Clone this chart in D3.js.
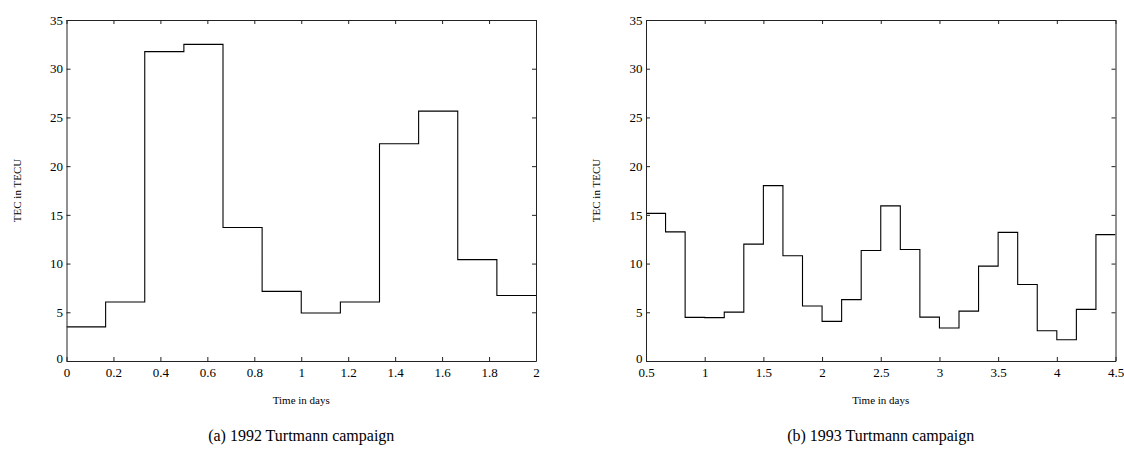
<!DOCTYPE html>
<html><head><meta charset="utf-8">
<script src="https://cdn.jsdelivr.net/npm/d3@7"></script>
<style>
html,body{margin:0;padding:0;background:#fff;}
text{font-family:"Liberation Serif","Times New Roman",serif;fill:#000;}
</style></head>
<body>
<svg id="chart" width="1124" height="462"></svg>
<script>
// Panel (a): 1992, bins of 1/6 day starting at 0
const binStartA = 0;
const tecA = [3.5, 6.05, 31.75, 32.5, 13.7, 7.15, 4.93, 6.05, 22.3, 25.65, 10.4, 6.72];
// Panel (b): 1993, bins of 1/6 day; first bin (before 0.5) is clipped
const binStartB = 1/3;
const tecB = [11.9, 15.15, 13.25, 4.48, 4.45, 5.02, 12.0, 18.0, 10.8, 5.64, 4.07, 6.3,
              11.34, 15.92, 11.45, 4.5, 3.38, 5.12, 9.74, 13.2, 7.85, 3.1, 2.18, 5.3, 12.97];
const binWidth = 1/6;
const xTicksA = [0, 0.2, 0.4, 0.6, 0.8, 1, 1.2, 1.4, 1.6, 1.8, 2];
const xTicksB = [0.5, 1, 1.5, 2, 2.5, 3, 3.5, 4, 4.5];
const yTicks = [0, 5, 10, 15, 20, 25, 30, 35];
const xDomainA = [0, 2];
const xDomainB = [0.5, 4.5];
const yDomain = [0, 35];
const captions = ["(a) 1992 Turtmann campaign", "(b) 1993 Turtmann campaign"];
const xLabel = "Time in days";
const yLabel = "TEC in TECU";

const svg = d3.select("#chart");
const plotTop = 20, plotBottom = 361, plotW = 469.5;
const panels = [
  {left: 66.5, dom: xDomainA, ticks: xTicksA, start: binStartA, vals: tecA, cap: captions[0]},
  {left: 646, dom: xDomainB, ticks: xTicksB, start: binStartB, vals: tecB, cap: captions[1]}
];

panels.forEach((p, i) => {
  const x = d3.scaleLinear().domain(p.dom).range([p.left, p.left + plotW]);
  const y = d3.scaleLinear().domain(yDomain).range([plotBottom, plotTop]);
  const g = svg.append("g");
  const clipId = "clip" + i;
  svg.append("clipPath").attr("id", clipId).append("rect")
    .attr("x", x.range()[0]).attr("y", plotTop).attr("width", plotW).attr("height", plotBottom - plotTop);

  const pts = p.vals.map((v, k) => [p.start + k * binWidth, v]);
  pts.push([p.start + p.vals.length * binWidth, p.vals[p.vals.length - 1]]);
  const line = d3.line().x(d => x(d[0])).y(d => y(d[1])).curve(d3.curveStepAfter);
  g.append("path").attr("d", line(pts)).attr("fill", "none")
    .attr("stroke", "#000").attr("stroke-width", 1.1).attr("clip-path", `url(#${clipId})`);

  const tl = 4;
  const fmt = d => String(d);
  const gb = g.append("g").attr("transform", `translate(0,${plotBottom})`)
    .call(d3.axisBottom(x).tickValues(p.ticks).tickFormat(fmt).tickSize(-tl).tickPadding(7).tickSizeOuter(0));
  const gt = g.append("g").attr("transform", `translate(0,${plotTop})`)
    .call(d3.axisTop(x).tickValues(p.ticks).tickFormat("").tickSize(-tl).tickSizeOuter(0));
  const gl = g.append("g").attr("transform", `translate(${x.range()[0]},0)`)
    .call(d3.axisLeft(y).tickValues(yTicks).tickFormat(fmt).tickSize(-tl).tickPadding(3.5).tickSizeOuter(0));
  const gr = g.append("g").attr("transform", `translate(${x.range()[1]},0)`)
    .call(d3.axisRight(y).tickValues(yTicks).tickFormat("").tickSize(-tl).tickSizeOuter(0));
  [gb, gt, gl, gr].forEach(a => {
    a.select(".domain").attr("stroke", "#222").attr("stroke-width", 1);
    a.selectAll(".tick line").attr("stroke", "#222");
    a.selectAll(".tick text").style("font-family", '"Liberation Serif", serif').style("font-size", "13px").attr("fill", "#000");
  });
  gl.selectAll(".tick text").filter(d => d === 0).attr("dy", "0.08em");

  const cx = p.left + plotW / 2;
  g.append("text").attr("x", cx).attr("y", 404).attr("text-anchor", "middle")
    .style("font-size", "11px").text(xLabel);
  g.append("text").attr("transform", `translate(${p.left - 46},${(plotTop + plotBottom) / 2}) rotate(-90)`)
    .attr("text-anchor", "middle").style("font-size", "11px").text(yLabel);
  g.append("text").attr("x", cx).attr("y", 441).attr("text-anchor", "middle")
    .style("font-size", "16px").text(p.cap);
});
</script>
</body></html>
